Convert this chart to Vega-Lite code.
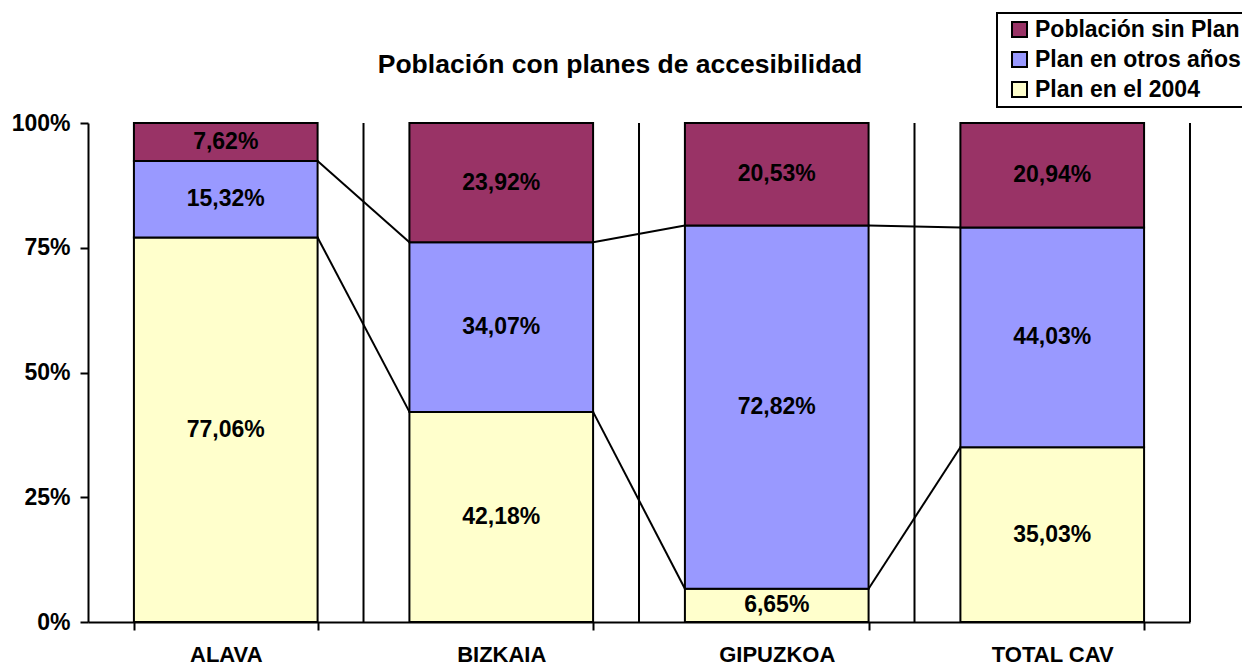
{
  "$schema": "https://vega.github.io/schema/vega-lite/v6.json",
  "width": 1102,
  "height": 499,
  "autosize": {"type": "none"},
  "padding": {"left": 88, "top": 123, "right": 52, "bottom": 44},
  "background": "white",
  "config": {
    "axisX": {"grid": false, "tickBand": "extent"},
    "axisY": {"grid": false},
    "view": {"stroke": null}
  },
  "title": {
    "text": "Población con planes de accesibilidad",
    "font": "Liberation Sans",
    "fontSize": 26.5,
    "fontWeight": "bold",
    "color": "black",
    "anchor": "middle",
    "frame": "group",
    "dx": -19,
    "baseline": "alphabetic",
    "offset": -87
  },
  "data": {
    "values": [
      {"zona": "ALAVA", "serie": "Plan en el 2004", "valor": 77.06},
      {"zona": "ALAVA", "serie": "Plan en otros años", "valor": 15.32},
      {"zona": "ALAVA", "serie": "Población sin Plan", "valor": 7.62},
      {"zona": "BIZKAIA", "serie": "Plan en el 2004", "valor": 42.18},
      {"zona": "BIZKAIA", "serie": "Plan en otros años", "valor": 34.07},
      {"zona": "BIZKAIA", "serie": "Población sin Plan", "valor": 23.92},
      {"zona": "GIPUZKOA", "serie": "Plan en el 2004", "valor": 6.65},
      {"zona": "GIPUZKOA", "serie": "Plan en otros años", "valor": 72.82},
      {"zona": "GIPUZKOA", "serie": "Población sin Plan", "valor": 20.53},
      {"zona": "TOTAL CAV", "serie": "Plan en el 2004", "valor": 35.03},
      {"zona": "TOTAL CAV", "serie": "Plan en otros años", "valor": 44.03},
      {"zona": "TOTAL CAV", "serie": "Población sin Plan", "valor": 20.94}
    ]
  },
  "transform": [
    {"stack": "valor", "groupby": ["zona"], "offset": "normalize", "sort": [{"field": "serie", "order": "ascending"}], "as": ["y0", "y1"]}
  ],
  "encoding": {
    "x": {
      "field": "zona",
      "type": "nominal",
      "sort": ["ALAVA", "BIZKAIA", "GIPUZKOA", "TOTAL CAV"],
      "scale": {"paddingInner": 0.3333, "paddingOuter": 0.1667},
      "axis": {
        "title": null,
        "labelAngle": 0,
        "labelFont": "Liberation Sans",
        "labelFontSize": 22,
        "labelFontWeight": "bold",
        "labelColor": "black",
        "labelPadding": 14,
        "tickBand": "extent",
        "tickSize": 8,
        "tickWidth": 2,
        "tickColor": "black",
        "domainColor": "black",
        "domainWidth": 2,
        "grid": false
      }
    }
  },
  "layer": [
    {
      "transform": [{"filter": "datum.serie == 'Plan en el 2004'"}],
      "mark": {"type": "rule", "color": "black", "strokeWidth": 2},
      "encoding": {
        "x": {"field": "zona", "type": "nominal", "sort": ["ALAVA", "BIZKAIA", "GIPUZKOA", "TOTAL CAV"], "bandPosition": 1.25},
        "y": {"datum": 0, "type": "quantitative"},
        "y2": {"datum": 1}
      }
    },
    {
      "mark": {"type": "bar", "stroke": "black", "strokeWidth": 2},
      "encoding": {
        "y": {
          "field": "y0",
          "type": "quantitative",
          "scale": {"domain": [0, 1], "nice": false},
          "axis": {
            "title": null,
            "values": [0, 0.25, 0.5, 0.75, 1],
            "format": ".0%",
            "grid": false,
            "labelFont": "Liberation Sans",
            "labelFontSize": 23,
            "labelFontWeight": "bold",
            "labelColor": "black",
            "labelPadding": 10,
            "tickSize": 8,
            "tickWidth": 2,
            "tickColor": "black",
            "domainColor": "black",
            "domainWidth": 2
          }
        },
        "y2": {"field": "y1"},
        "color": {
          "field": "serie",
          "type": "nominal",
          "scale": {
            "domain": ["Población sin Plan", "Plan en otros años", "Plan en el 2004"],
            "range": ["#993366", "#9999FF", "#FFFFCC"]
          },
          "legend": {
            "title": null,
            "orient": "none",
            "legendX": 909,
            "legendY": -110,
            "strokeColor": "black",
            "fillColor": "white",
            "padding": 5,
            "symbolType": "square",
            "symbolSize": 225,
            "symbolOffset": 6,
            "symbolStrokeColor": "black",
            "symbolStrokeWidth": 2,
            "symbolOpacity": 1,
            "labelFont": "Liberation Sans",
            "labelFontSize": 23,
            "labelFontWeight": "bold",
            "labelColor": "black",
            "labelOffset": 4,
            "labelLimit": 300,
            "rowPadding": 6,
            "encode": {"legend": {"update": {"strokeWidth": {"value": 2}}}}
          }
        }
      }
    },
    {
      "transform": [
        {"calculate": "(datum.y0 + datum.y1) / 2", "as": "ymid"},
        {"calculate": "replace(format(datum.valor, '.2f'), '.', ',') + '%'", "as": "etiqueta"}
      ],
      "mark": {"type": "text", "font": "Liberation Sans", "fontSize": 23, "fontWeight": "bold", "color": "black"},
      "encoding": {
        "y": {"field": "ymid", "type": "quantitative"},
        "text": {"field": "etiqueta"}
      }
    },
    {
      "transform": [
        {"filter": "datum.serie != 'Población sin Plan'"},
        {"window": [{"op": "lead", "field": "zona", "as": "zonaSig"}, {"op": "lead", "field": "y1", "as": "y1Sig"}], "groupby": ["serie"], "sort": [{"field": "zona", "order": "ascending"}]},
        {"filter": "datum.zonaSig != null"}
      ],
      "mark": {"type": "rule", "color": "black", "strokeWidth": 2},
      "encoding": {
        "x": {"field": "zona", "type": "nominal", "sort": ["ALAVA", "BIZKAIA", "GIPUZKOA", "TOTAL CAV"], "bandPosition": 1},
        "x2": {"field": "zonaSig", "bandPosition": 0},
        "y": {"field": "y1", "type": "quantitative"},
        "y2": {"field": "y1Sig"}
      }
    }
  ]
}
